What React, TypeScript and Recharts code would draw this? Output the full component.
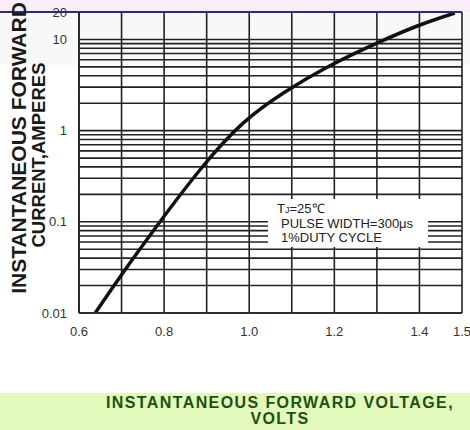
import React from "react";
import { LineChart, Line, XAxis, YAxis, CartesianGrid } from "recharts";

// forward voltage (V) vs instantaneous forward current (A)
const voltage = [0.638, 0.703, 0.783, 0.884, 0.985, 1.084, 1.183, 1.3, 1.401, 1.483];
const current = [0.01, 0.0275, 0.09, 0.37, 1.2, 2.65, 4.95, 9.1, 14.4, 19.5];

const xTicks = [0.6, 0.7, 0.8, 0.9, 1.0, 1.1, 1.2, 1.3, 1.4, 1.5];
const xLabels = ["0.6", "0.8", "1.0", "1.2", "1.4", "1.5"];
const yTicks = [
  0.01, 0.02, 0.03, 0.04, 0.05, 0.06, 0.07, 0.08, 0.09,
  0.1, 0.2, 0.3, 0.4, 0.5, 0.6, 0.7, 0.8, 0.9,
  1, 2, 3, 4, 5, 6, 7, 8, 9,
  10, 20,
];
const yLabels: Record<string, string> = { "0.01": "0.01", "0.1": "0.1", "1": "1", "10": "10", "20": "20" };

const data = voltage.map((v, i) => ({ v, i: current[i] }));

const font = "Arial, 'Liberation Sans', sans-serif";

export default function App() {
  return (
    <div style={{ position: "absolute", left: 0, top: 0, width: 470, height: 430, background: "#fff", overflow: "hidden", fontFamily: font }}>
      <div style={{ position: "absolute", left: 0, top: 0, width: 470, height: 12, background: "#fbeefa" }} />
      <div style={{ position: "absolute", left: 0, top: 12, width: 470, height: 53, background: "#f8f8f8" }} />
      <div style={{ position: "absolute", left: 0, top: 393, width: 470, height: 37, background: "#e3f9bb" }} />
      <div style={{ position: "absolute", left: 0, top: 0 }}>
        <LineChart width={470} height={430} data={data} margin={{ top: 12, right: 8, left: 19, bottom: 87 }}>
          <CartesianGrid stroke="#222" strokeWidth={1.6} />
          <XAxis
            dataKey="v"
            type="number"
            domain={[0.6, 1.5]}
            ticks={xTicks}
            interval={0}
            height={30}
            tickLine={false}
            axisLine={{ stroke: "#222", strokeWidth: 1.6 }}
            tickMargin={8}
            tick={{ fontSize: 13, fill: "#333", fontFamily: font }}
            tickFormatter={(t: number) => {
              const s = t.toFixed(1);
              return xLabels.includes(s) ? s : "";
            }}
          />
          <YAxis
            scale="log"
            domain={[0.01, 20]}
            allowDataOverflow
            ticks={yTicks}
            interval={0}
            width={60}
            tickLine={false}
            axisLine={{ stroke: "#222", strokeWidth: 1.6 }}
            tickMargin={6}
            tick={{ fontSize: 13, fill: "#333", fontFamily: font }}
            tickFormatter={(t: number) => yLabels[String(t)] ?? ""}
          />
          <Line dataKey="i" type="natural" stroke="#111" strokeWidth={3.5} dot={false} isAnimationActive={false} />
        </LineChart>
      </div>
      <div style={{ position: "absolute", left: 0, top: 11, width: 462, height: 1.5, background: "#2a2a80" }} />
      <div
        style={{
          position: "absolute",
          left: 268,
          top: 199,
          width: 160,
          height: 48,
          background: "#fff",
          color: "#222",
          fontSize: 13,
          lineHeight: "14px",
          paddingLeft: 9,
          paddingTop: 3,
          boxSizing: "border-box",
        }}
      >
        <div>
          T<span style={{ fontSize: 9 }}>J</span>=25℃
        </div>
        <div style={{ paddingLeft: 4 }}>PULSE WIDTH=300μs</div>
        <div style={{ paddingLeft: 4 }}>1%DUTY CYCLE</div>
      </div>
      <div
        style={{
          position: "absolute",
          left: 19,
          top: 148,
          width: 320,
          transform: "translate(-50%, -50%) rotate(-90deg)",
          textAlign: "center",
          fontWeight: "bold",
          fontSize: 21,
          lineHeight: "20px",
          color: "#1a1a1a",
          whiteSpace: "nowrap",
        }}
      >
        INSTANTANEOUS FORWARD
      </div>
      <div
        style={{
          position: "absolute",
          left: 39,
          top: 155,
          width: 320,
          transform: "translate(-50%, -50%) rotate(-90deg)",
          textAlign: "center",
          fontWeight: "bold",
          fontSize: 18.5,
          lineHeight: "20px",
          color: "#1a1a1a",
          whiteSpace: "nowrap",
        }}
      >
        CURRENT,AMPERES
      </div>
      <div
        style={{
          position: "absolute",
          left: 80,
          top: 395,
          width: 400,
          textAlign: "center",
          fontWeight: "bold",
          fontSize: 16,
          lineHeight: "16px",
          letterSpacing: 1.4,
          color: "#1d5010",
        }}
      >
        INSTANTANEOUS FORWARD VOLTAGE,
        <br />
        VOLTS
      </div>
    </div>
  );
}
